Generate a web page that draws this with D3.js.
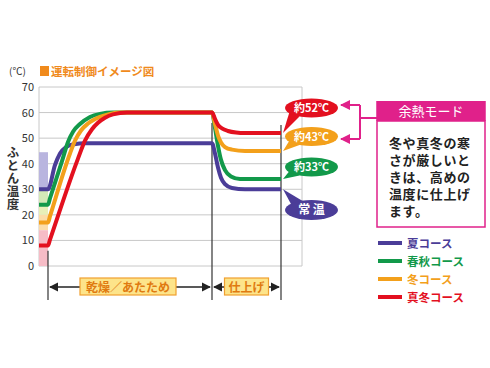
<!DOCTYPE html>
<html><head><meta charset="utf-8">
<script src="https://cdn.jsdelivr.net/npm/d3@7"></script>
<style>body{margin:0;background:#fff}svg{display:block}text{font-family:"Noto Sans CJK JP","Noto Sans",sans-serif}</style>
</head><body>
<svg id="c" width="490" height="368"></svg>
<script>
// ---- data ----
const seriesNames = ["夏コース","春秋コース","冬コース","真冬コース"];
const seriesColors = ["#4b3d98","#12994a","#f3a01b","#e3101f"];
// elapsed time (arbitrary units) and futon temperature (℃)
const summerT = [0,9,16,21,27,35,46,173,176,179,182,186,193,206,242];
const summerV = [30,30,39.5,44,46.5,47.6,48,48,44,38.5,34.5,32,30.5,30,30];
const springT = [0,9,11,23,29,34,41,51,61,74,173,176,179,182,186,192,201,242];
const springV = [24,24,26.5,41,48.5,52.5,55.5,58.3,59.5,60,60,54,47,41.5,37.5,35,34,34];
const winterT = [0,9,11,31,36,42,49,61,71,81,173,176,179,182,186,193,206,242];
const winterV = [17,17,19.5,44,49,53,55.7,58.3,59.5,60,60,55.5,51,48.3,46.5,45.5,45,45];
const deepT = [0,9,11,39,46,53,59,66,74,88,173,176,179,183,189,197,206,242];
const deepV = [8,8,10.3,42,49,53.5,56,58,59.3,60,60,57.5,55.2,53.8,52.8,52.2,52,52];
const yTicks = [0,10,20,30,40,50,60,70];
const phaseTimes = [9,173,242];
const phaseLabels = ["乾燥／あたため","仕上げ"];
const bubbleLabels = ["常 温","約33℃","約43℃","約52℃"];
const startBands = [[30,44.5,"#b9b5df"],[24,30,"#d3e8b8"],[20,24,"#e8efb8"],[14,20,"#fcdca8"],[0,14,"#f6bcc6"]];
const modeTitle = "余熱モード";
const modeLines = ["冬や真冬の寒","さが厳しいと","きは、高めの","温度に仕上げ","ます。"];

const series = [
  {t:summerT,v:summerV},{t:springT,v:springV},{t:winterT,v:winterV},{t:deepT,v:deepV}
];

const svg = d3.select("#c");
const x = d3.scaleLinear().domain([0,263]).range([39,302]);
const y = d3.scaleLinear().domain([0,70]).range([266,87]);

// title
svg.append("text").attr("x",9).attr("y",75).attr("font-size",10).attr("fill","#333").text("(℃)");
svg.append("rect").attr("x",40).attr("y",66).attr("width",9).attr("height",10).attr("fill","#f08a1c");
svg.append("text").attr("x",51).attr("y",76).attr("font-size",11.5).attr("font-weight","bold").attr("fill","#f08a1c").text("運転制御イメージ図");

// gridlines
svg.append("g").selectAll("line").data(yTicks).join("line")
  .attr("x1",x(0)).attr("x2",x(263)).attr("y1",d=>y(d)).attr("y2",d=>y(d))
  .attr("stroke","#c8c8c8").attr("stroke-width",1);
svg.append("line").attr("x1",x(0)).attr("x2",x(0)).attr("y1",y(70)).attr("y2",y(0)).attr("stroke","#c8c8c8");
svg.append("line").attr("x1",x(263)).attr("x2",x(263)).attr("y1",y(70)).attr("y2",y(0)).attr("stroke","#c8c8c8");

// y axis labels
const ax = svg.append("g").attr("transform","translate(34,0)")
  .call(d3.axisLeft(y).tickValues(yTicks).tickSize(0).tickPadding(0));
ax.select(".domain").remove();
ax.selectAll("text").attr("font-size",11).attr("fill","#333").attr("font-family","Liberation Sans, Arial, sans-serif");

// y title vertical
svg.append("text").attr("x",13).attr("y",146)
  .attr("font-size",12.5).attr("font-weight","bold").attr("fill","#333")
  .attr("writing-mode","vertical-rl").attr("letter-spacing",0.5).text("ふとん温度");

// start bands
svg.append("g").selectAll("rect").data(startBands).join("rect")
  .attr("x",x(0)).attr("width",x(phaseTimes[0])-x(0))
  .attr("y",d=>y(d[1])).attr("height",d=>y(d[0])-y(d[1])).attr("fill",d=>d[2]);

// phase vertical lines
svg.append("line").attr("x1",x(phaseTimes[0])).attr("x2",x(phaseTimes[0])).attr("y1",y(6)).attr("y2",300).attr("stroke","#333").attr("stroke-width",1.2);
svg.append("line").attr("x1",x(phaseTimes[1])).attr("x2",x(phaseTimes[1])).attr("y1",123).attr("y2",300).attr("stroke","#333").attr("stroke-width",1.2);
svg.append("line").attr("x1",x(phaseTimes[2])).attr("x2",x(phaseTimes[2])).attr("y1",125).attr("y2",300).attr("stroke","#333").attr("stroke-width",1.2);

// lines
const line = d3.line().x(d=>x(d[0])).y(d=>y(d[1])).curve(d3.curveMonotoneX);
series.forEach((s,i)=>{
  svg.append("path").datum(s.t.map((t,k)=>[t,s.v[k]]))
    .attr("d",line).attr("fill","none").attr("stroke",seriesColors[i])
    .attr("stroke-width",4).attr("stroke-linejoin","round");
});

// phase arrows
const defs = svg.append("defs");
defs.append("marker").attr("id","ah").attr("viewBox","0 0 10 10").attr("refX",9).attr("refY",5)
  .attr("markerWidth",7).attr("markerHeight",7).attr("orient","auto-start-reverse")
  .append("path").attr("d","M0,0L10,5L0,10z").attr("fill","#222");
defs.append("marker").attr("id","ap").attr("viewBox","0 0 10 10").attr("refX",9).attr("refY",5)
  .attr("markerWidth",5).attr("markerHeight",5).attr("orient","auto-start-reverse")
  .append("path").attr("d","M0,0L10,5L0,10z").attr("fill","#e0218a");
const ay = 287;
const phases = [[phaseTimes[0],phaseTimes[1]],[phaseTimes[1],phaseTimes[2]]];
phases.forEach((p,i)=>{
  const x1 = x(p[0])+2, x2 = x(p[1])-2;
  svg.append("line").attr("x1",x1).attr("x2",x2).attr("y1",ay).attr("y2",ay)
    .attr("stroke","#222").attr("stroke-width",1.3)
    .attr("marker-start","url(#ah)").attr("marker-end","url(#ah)");
  const cx = (x(p[0])+x(p[1]))/2 + (i===0?-2:0);
  const w = i===0?96:44;
  svg.append("rect").attr("x",cx-w/2).attr("y",278).attr("width",w).attr("height",17)
    .attr("fill","#fde48a").attr("stroke","#f0a030").attr("stroke-width",1.2);
  svg.append("text").attr("x",cx).attr("y",291.5).attr("text-anchor","middle")
    .attr("font-size",12).attr("font-weight","bold").attr("fill","#e07a10").text(phaseLabels[i]);
});

// bubbles
const bubbleCY = [210,167,136.5,108];
series.forEach((s,i)=>{
  const endV = s.v[s.v.length-1];
  const tipX = x(phaseTimes[2])+2, tipY = y(endV);
  const cx = 311.5, cy = bubbleCY[i], rx = 26.5, ry = 9.5;
  const g = svg.append("g").attr("fill",seriesColors[i]);
  if (i===0) {
    g.append("path").attr("d",`M${tipX},${tipY}L${cx-8},${cy-ry+1}L${cx-20},${cy-5}Z`);
  } else {
    g.append("path").attr("d",`M${tipX},${tipY}L${cx-12},${cy+ry-1}L${cx-22},${cy+4}Z`);
  }
  g.append("ellipse").attr("cx",cx).attr("cy",cy).attr("rx",rx).attr("ry",i===0?10:ry);
  svg.append("text").attr("x",cx).attr("y",cy+4).attr("text-anchor","middle")
    .attr("font-size",i===0?12:11).attr("font-weight","bold").attr("fill","#fff").text(bubbleLabels[i]);
});

// pink connector
const pink = "#e0218a";
svg.append("path").attr("d","M377,118H360M360,105V139").attr("stroke",pink).attr("stroke-width",2).attr("fill","none");
[105,139].forEach(yy=>{
  svg.append("line").attr("x1",360).attr("x2",341).attr("y1",yy).attr("y2",yy)
    .attr("stroke",pink).attr("stroke-width",2).attr("marker-end","url(#ap)");
});

// mode box
svg.append("rect").attr("x",377).attr("y",121).attr("width",108).attr("height",106)
  .attr("fill","#fff").attr("stroke",pink).attr("stroke-width",1.5);
svg.append("rect").attr("x",376.25).attr("y",101).attr("width",109.5).attr("height",20).attr("fill",pink);
svg.append("text").attr("x",431).attr("y",116).attr("text-anchor","middle").attr("font-size",13)
  .attr("fill","#fff").text(modeTitle);
svg.append("g").selectAll("text").data(modeLines).join("text")
  .attr("x",389).attr("y",(d,i)=>148+i*17).attr("font-size",13).attr("font-weight","bold")
  .attr("letter-spacing",0.6).attr("fill","#222").text(d=>d);

// legend
const lg = svg.append("g");
seriesNames.forEach((n,i)=>{
  const ly = 243+i*18;
  lg.append("line").attr("x1",378).attr("x2",402).attr("y1",ly).attr("y2",ly)
    .attr("stroke",seriesColors[i]).attr("stroke-width",4);
  lg.append("text").attr("x",407).attr("y",ly+4.5).attr("font-size",11.5).attr("font-weight","bold")
    .attr("fill",seriesColors[i]).text(n);
});
</script>
</body></html>
